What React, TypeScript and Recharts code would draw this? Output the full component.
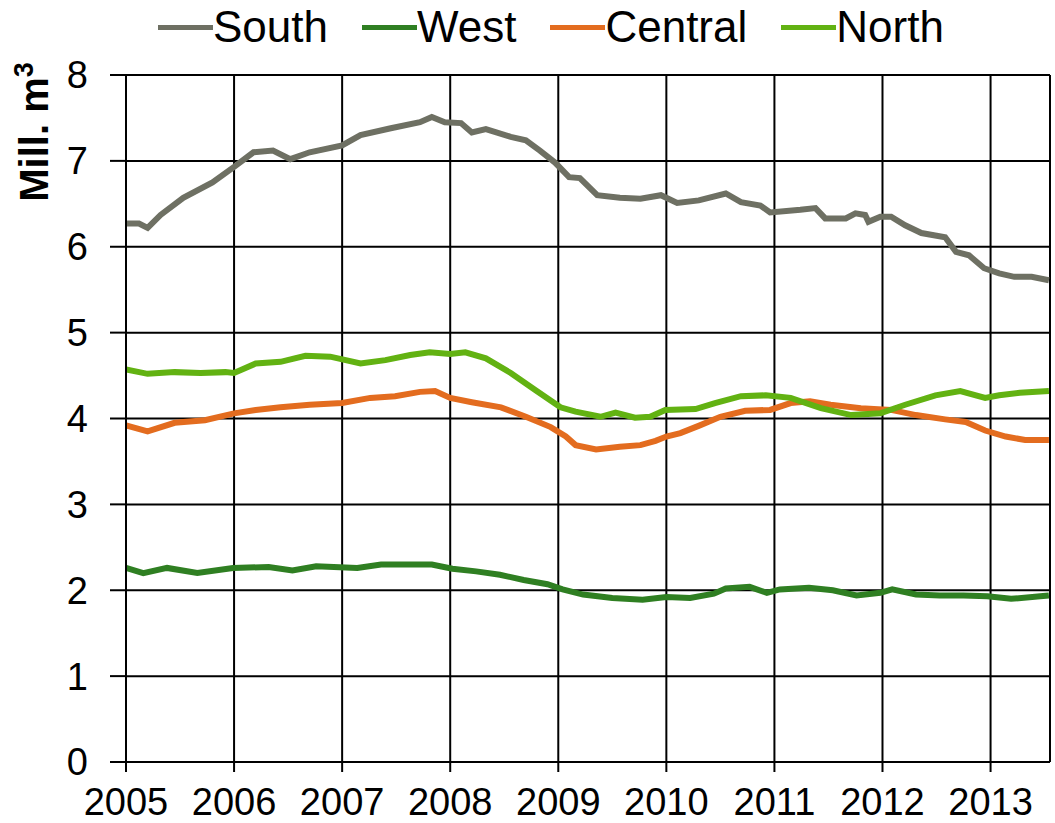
import React from 'react';
import { LineChart, Line, XAxis, YAxis, CartesianGrid } from 'recharts';

const seriesNames = ['South', 'West', 'Central', 'North'];
const seriesColors = ['#6e7063', '#2f7f22', '#e36c1f', '#62b212'];

const yearTicks = [2005, 2006, 2007, 2008, 2009, 2010, 2011, 2012, 2013];
const valueTicks = [0, 1, 2, 3, 4, 5, 6, 7, 8];

const south: [number, number][] = [
  [2005.0, 6.27], [2005.12, 6.27], [2005.2, 6.22], [2005.32, 6.37], [2005.53, 6.57], [2005.8, 6.75],
  [2006.0, 6.93], [2006.18, 7.10], [2006.36, 7.12], [2006.52, 7.02], [2006.7, 7.10], [2007.0, 7.18],
  [2007.17, 7.30], [2007.45, 7.38], [2007.72, 7.45], [2007.83, 7.51], [2007.95, 7.45], [2008.1, 7.44],
  [2008.2, 7.33], [2008.33, 7.37], [2008.56, 7.28], [2008.7, 7.24], [2008.83, 7.12], [2008.97, 6.98],
  [2009.1, 6.81], [2009.2, 6.80], [2009.36, 6.60], [2009.57, 6.57], [2009.76, 6.56], [2009.95, 6.60],
  [2010.1, 6.51], [2010.3, 6.54], [2010.55, 6.62], [2010.69, 6.52], [2010.87, 6.48], [2010.96, 6.40],
  [2011.24, 6.43], [2011.38, 6.45], [2011.47, 6.33], [2011.66, 6.33], [2011.75, 6.39], [2011.84, 6.37],
  [2011.87, 6.29], [2011.98, 6.35], [2012.08, 6.35], [2012.21, 6.25], [2012.36, 6.16], [2012.58, 6.11],
  [2012.68, 5.94], [2012.8, 5.90], [2012.94, 5.75], [2013.08, 5.69], [2013.22, 5.65], [2013.38, 5.65],
  [2013.54, 5.61],
];

const west: [number, number][] = [
  [2005.0, 2.26], [2005.16, 2.20], [2005.38, 2.26], [2005.66, 2.20], [2005.99, 2.26], [2006.32, 2.27],
  [2006.54, 2.23], [2006.76, 2.28], [2007.14, 2.26], [2007.36, 2.30], [2007.69, 2.30], [2007.83, 2.30],
  [2008.02, 2.25], [2008.24, 2.22], [2008.46, 2.18], [2008.68, 2.12], [2008.9, 2.07], [2009.04, 2.01],
  [2009.23, 1.95], [2009.5, 1.91], [2009.78, 1.89], [2010.0, 1.92], [2010.22, 1.91], [2010.44, 1.96],
  [2010.55, 2.02], [2010.77, 2.04], [2010.93, 1.97], [2011.05, 2.01], [2011.32, 2.03], [2011.54, 2.00],
  [2011.76, 1.94], [2011.98, 1.97], [2012.09, 2.01], [2012.31, 1.95], [2012.53, 1.94], [2012.75, 1.94],
  [2012.97, 1.93], [2013.19, 1.90], [2013.46, 1.93], [2013.54, 1.94],
];

const central: [number, number][] = [
  [2005.0, 3.92], [2005.2, 3.85], [2005.45, 3.95], [2005.73, 3.98], [2006.0, 4.06], [2006.2, 4.10],
  [2006.43, 4.13], [2006.7, 4.16], [2007.0, 4.18], [2007.26, 4.24], [2007.49, 4.26], [2007.72, 4.31],
  [2007.86, 4.32], [2008.0, 4.24], [2008.2, 4.19], [2008.47, 4.13], [2008.7, 4.02], [2008.93, 3.90],
  [2009.07, 3.79], [2009.16, 3.69], [2009.35, 3.64], [2009.57, 3.67], [2009.76, 3.69], [2009.9, 3.74],
  [2010.0, 3.79], [2010.13, 3.83], [2010.31, 3.92], [2010.5, 4.02], [2010.73, 4.09], [2010.96, 4.10],
  [2011.15, 4.18], [2011.33, 4.20], [2011.52, 4.16], [2011.8, 4.12], [2012.08, 4.10], [2012.31, 4.04],
  [2012.58, 3.99], [2012.77, 3.96], [2012.95, 3.86], [2013.14, 3.79], [2013.32, 3.75], [2013.54, 3.75],
];

const north: [number, number][] = [
  [2005.0, 4.57], [2005.2, 4.52], [2005.45, 4.54], [2005.69, 4.53], [2005.92, 4.54], [2006.0, 4.53],
  [2006.2, 4.64], [2006.43, 4.66], [2006.66, 4.73], [2006.89, 4.72], [2007.17, 4.64], [2007.4, 4.68],
  [2007.63, 4.74], [2007.81, 4.77], [2008.0, 4.75], [2008.14, 4.77], [2008.33, 4.70], [2008.56, 4.53],
  [2008.79, 4.33], [2009.02, 4.13], [2009.16, 4.08], [2009.39, 4.02], [2009.53, 4.07], [2009.71, 4.01],
  [2009.85, 4.02], [2009.99, 4.10], [2010.27, 4.11], [2010.45, 4.18], [2010.69, 4.26], [2010.92, 4.27],
  [2011.15, 4.24], [2011.43, 4.12], [2011.71, 4.04], [2011.98, 4.06], [2012.21, 4.16], [2012.49, 4.27],
  [2012.72, 4.32], [2012.95, 4.24], [2013.08, 4.27], [2013.27, 4.30], [2013.54, 4.32],
];

const seriesData = [south, west, central, north].map((s) => s.map(([t, v]) => ({ t, v })));

const FONT = '"Liberation Sans", Arial, sans-serif';

const LegendBar = () => (
  <div
    style={{
      position: 'absolute',
      left: 158,
      top: 0,
      height: 54,
      display: 'flex',
      alignItems: 'center',
      fontFamily: FONT,
      fontSize: 44,
      color: '#000',
      whiteSpace: 'nowrap',
    }}
  >
    {seriesNames.map((name, i) => (
      <div key={name} style={{ display: 'flex', alignItems: 'center', marginRight: 34 }}>
        <span style={{ display: 'inline-block', width: 55, height: 5, background: seriesColors[i] }} />
        <span style={{ lineHeight: '54px' }}>{name}</span>
      </div>
    ))}
  </div>
);

const YTitle = () => (
  <text
    x={48}
    y={132}
    transform="rotate(-90 48 132)"
    textAnchor="middle"
    fontFamily={FONT}
    fontWeight="bold"
    fontSize={40}
    fill="#000"
  >
    Mill. m<tspan dy={-15} fontSize={27}>3</tspan>
  </text>
);

export default function App() {
  return (
    <div style={{ position: 'absolute', left: 0, top: 0, width: 1055, height: 823, background: '#fff' }}>
      <LineChart width={1055} height={823} margin={{ top: 75, right: 5, bottom: 0, left: 0 }}>
        <CartesianGrid stroke="#000" strokeWidth={2} horizontal vertical />
        <XAxis
          type="number"
          dataKey="t"
          domain={[2005, 2013.55]}
          allowDataOverflow
          ticks={yearTicks}
          stroke="#000"
          strokeWidth={2}
          tickSize={10}
          tickMargin={16}
          height={61}
          tick={{ fill: '#000', fontSize: 38, fontFamily: FONT }}
          tickLine={{ stroke: '#000', strokeWidth: 2 }}
        />
        <YAxis
          type="number"
          domain={[0, 8]}
          allowDataOverflow
          ticks={valueTicks}
          width={126}
          stroke="#000"
          strokeWidth={2}
          tickSize={16}
          tickMargin={22}
          tick={{ fill: '#000', fontSize: 38, fontFamily: FONT }}
          tickLine={{ stroke: '#000', strokeWidth: 2 }}
          label={<YTitle />}
        />
        {seriesNames.map((name, i) => (
          <Line
            key={name}
            name={name}
            data={seriesData[i]}
            dataKey="v"
            type="linear"
            stroke={seriesColors[i]}
            strokeWidth={6}
            dot={false}
            activeDot={false}
            isAnimationActive={false}
          />
        ))}
      </LineChart>
      <LegendBar />
    </div>
  );
}
